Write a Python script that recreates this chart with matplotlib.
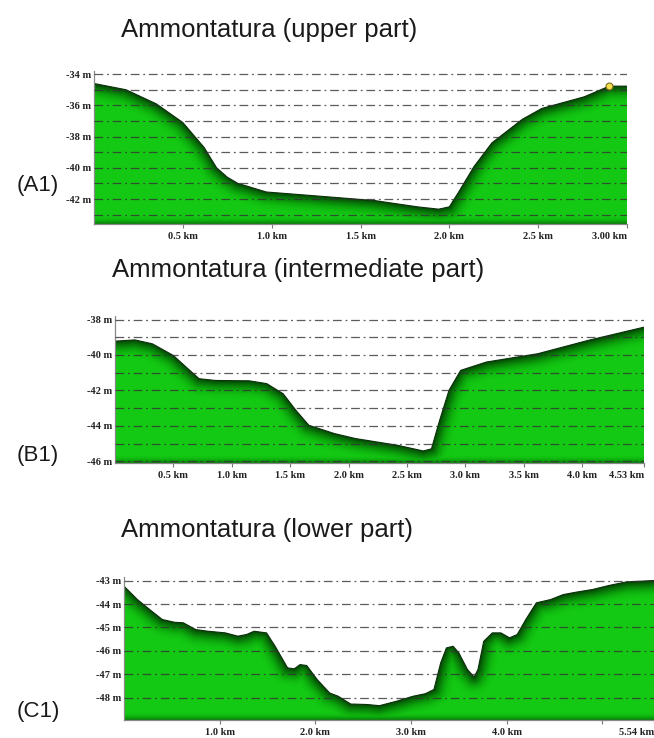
import numpy as np
import matplotlib.pyplot as plt
from matplotlib.colors import LinearSegmentedColormap
from matplotlib.patches import Polygon

# bathymetric profiles across the Ammontatura (distance km, depth m)
upper_km = [0.0, 0.18, 0.35, 0.50, 0.62, 0.69, 0.75, 0.81, 0.97, 1.25, 1.58, 1.82, 1.94,
            2.00, 2.05, 2.14, 2.24, 2.41, 2.52, 2.76, 2.90, 3.00]
upper_m = [-34.6, -35.0, -35.9, -37.1, -38.7, -40.0, -40.6, -41.0, -41.55, -41.8, -42.1,
           -42.5, -42.65, -42.5, -41.6, -39.9, -38.4, -36.9, -36.2, -35.45, -34.77, -34.77]
upper_marker = (2.90, -34.77)

mid_km = [0.0, 0.17, 0.32, 0.50, 0.61, 0.72, 0.86, 1.15, 1.30, 1.44, 1.55, 1.66, 1.88,
          2.06, 2.42, 2.64, 2.71, 2.78, 2.86, 2.96, 3.18, 3.62, 4.05, 4.53]
mid_m = [-39.22, -39.15, -39.37, -40.03, -40.69, -41.34, -41.44, -41.46, -41.62, -42.19,
         -43.13, -43.97, -44.44, -44.72, -45.1, -45.42, -45.3, -43.69, -42.0, -40.87,
         -40.4, -39.93, -39.18, -38.43]

lower_km = [0.0, 0.14, 0.27, 0.40, 0.53, 0.62, 0.75, 0.88, 1.06, 1.19, 1.28, 1.36, 1.49,
            1.58, 1.71, 1.78, 1.84, 1.91, 2.02, 2.15, 2.24, 2.37, 2.54, 2.67, 2.85, 3.02,
            3.15, 3.24, 3.31, 3.37, 3.44, 3.50, 3.59, 3.66, 3.70, 3.76, 3.85, 3.94, 4.03,
            4.11, 4.20, 4.31, 4.46, 4.59, 4.72, 4.90, 5.07, 5.25, 5.54]
lower_m = [-43.24, -43.81, -44.24, -44.66, -44.78, -44.80, -45.09, -45.16, -45.23, -45.37,
           -45.30, -45.16, -45.23, -45.80, -46.72, -46.76, -46.58, -46.62, -47.22, -47.79,
           -47.93, -48.26, -48.28, -48.33, -48.14, -47.93, -47.82, -47.64, -46.51, -45.87,
           -45.80, -46.08, -46.79, -47.11, -46.79, -45.59, -45.23, -45.23, -45.44, -45.30,
           -44.66, -43.95, -43.81, -43.60, -43.50, -43.38, -43.21, -43.06, -43.0]

upper_xticks = [0.5, 1.0, 1.5, 2.0, 2.5, 3.0]
upper_xlabels = ['0.5 km', '1.0 km', '1.5 km', '2.0 km', '2.5 km', '3.00 km']
mid_xticks = [0.5, 1.0, 1.5, 2.0, 2.5, 3.0, 3.5, 4.0, 4.53]
mid_xlabels = ['0.5 km', '1.0 km', '1.5 km', '2.0 km', '2.5 km', '3.0 km', '3.5 km',
               '4.0 km', '4.53 km']
lower_xticks = [1.0, 2.0, 3.0, 4.0, 5.0, 5.54]
lower_xlabels = ['1.0 km', '2.0 km', '3.0 km', '4.0 km', '', '5.54 km']

upper_grid = [-34, -35, -36, -37, -38, -39, -40, -41, -42, -43]
upper_ylabels = [-34, -36, -38, -40, -42]
mid_grid = [-38, -39, -40, -41, -42, -43, -44, -45, -46]
mid_ylabels = [-38, -40, -42, -44, -46]
lower_grid = [-43, -44, -45, -46, -47, -48]
lower_ylabels = [-43, -44, -45, -46, -47, -48]

RELIEF = LinearSegmentedColormap.from_list(
    'relief', ['#054605', '#087a08', '#0ca60c', '#11bf11', '#14c914'])


def seg_distance(px, py, x0, y0, x1, y1):
    dx, dy = x1 - x0, y1 - y0
    t = ((px - x0) * dx + (py - y0) * dy) / max(dx * dx + dy * dy, 1e-9)
    t = np.clip(t, 0, 1)
    return np.hypot(px - (x0 + t * dx), py - (y0 + t * dy))


def draw_profile(ax, km, depth, ylim, xmax, grid, ylabels, xticks, xlabels, box_px):
    km = np.asarray(km)
    depth = np.asarray(depth)
    y_bot, y_top = ylim
    w_px, h_px = box_px
    sx = w_px / xmax
    sy = h_px / (y_top - y_bot)

    # shaded fill: darker towards the seabed line and the floor of the box
    xs = np.linspace(0, xmax, 900)
    ys = np.linspace(y_bot, y_top, 400)
    X, Y = np.meshgrid(xs, ys)
    PX, PY = X * sx, Y * sy
    dist = np.full(X.shape, np.inf)
    for i in range(len(km) - 1):
        d = seg_distance(PX, PY, km[i] * sx, depth[i] * sy, km[i + 1] * sx, depth[i + 1] * sy)
        dist = np.minimum(dist, d)
    floor = (Y - y_bot) * sy
    shade = np.clip(np.minimum(dist / 18.0, floor / 10.0 + 0.25), 0, 1)
    im = ax.imshow(shade, extent=(0, xmax, y_bot, y_top), origin='lower', aspect='auto',
                   cmap=RELIEF, vmin=0, vmax=1, interpolation='bilinear', zorder=1)
    verts = np.column_stack([np.r_[km, km[-1], km[0]], np.r_[depth, y_bot, y_bot]])
    clip = Polygon(verts, closed=True, facecolor='none', edgecolor='none')
    ax.add_patch(clip)
    im.set_clip_path(clip)
    ax.plot(km, depth, color='#0a300a', lw=0.8, zorder=2)

    for g in grid:
        ax.axhline(g, color='#333333', lw=0.9, alpha=0.8, dashes=(7, 3, 1.5, 3), zorder=3)

    ax.set_xlim(0, xmax)
    ax.set_ylim(y_bot, y_top)
    ax.set_yticks(ylabels)
    ax.set_yticklabels([f'{v} m' for v in ylabels])
    ax.set_xticks(xticks)
    labels = ax.set_xticklabels(xlabels)
    labels[-1].set_ha('right')
    ax.tick_params(axis='y', length=0, pad=2)
    ax.tick_params(axis='x', length=3, width=0.8, color='#777777', pad=3)
    for lab in ax.get_xticklabels() + ax.get_yticklabels():
        lab.set_fontfamily('Liberation Serif')
        lab.set_fontweight('bold')
        lab.set_fontsize(7.5)
        lab.set_color('#222222')
    for side in ('top', 'right'):
        ax.spines[side].set_visible(False)
    for side in ('left', 'bottom'):
        ax.spines[side].set_color('#888888')
        ax.spines[side].set_linewidth(0.9)
    ax.set_facecolor('white')


W, H = 654, 738
fig = plt.figure(figsize=(W / 100, H / 100), dpi=100)


def add_axes(left, right, top, bottom):
    return fig.add_axes([left / W, 1 - bottom / H, (right - left) / W, (bottom - top) / H])


ax_a = add_axes(94, 627, 71, 224)
draw_profile(ax_a, upper_km, upper_m, (-43.6, -33.8), 3.0, upper_grid, upper_ylabels,
             upper_xticks, upper_xlabels, (533, 153))
ax_a.plot(*upper_marker, 'o', ms=5, mfc='#f4e04c', mec='#7a6a1a', mew=0.8, zorder=5,
          clip_on=False)

ax_b = add_axes(115, 644, 316, 463)
draw_profile(ax_b, mid_km, mid_m, (-46.1, -37.8), 4.53, mid_grid, mid_ylabels,
             mid_xticks, mid_xlabels, (529, 147))

ax_c = add_axes(124, 654, 577, 720)
draw_profile(ax_c, lower_km, lower_m, (-48.94, -42.85), 5.54, lower_grid, lower_ylabels,
             lower_xticks, lower_xlabels, (530, 143))

title_kw = dict(family='Liberation Sans', fontsize=18.5, color='#1a1a1a', ha='left', va='center')
fig.text(121 / W, 1 - 30 / H, 'Ammontatura (upper part)', **title_kw)
fig.text(112 / W, 1 - 270 / H, 'Ammontatura (intermediate part)', **title_kw)
fig.text(121 / W, 1 - 530 / H, 'Ammontatura (lower part)', **title_kw)

panel_kw = dict(family='Liberation Sans', fontsize=16, color='#1a1a1a', ha='left', va='center')
fig.text(17 / W, 1 - 186 / H, '(A1)', **panel_kw)
fig.text(17 / W, 1 - 456 / H, '(B1)', **panel_kw)
fig.text(17 / W, 1 - 711 / H, '(C1)', **panel_kw)

fig.savefig('out.png', dpi=100)
